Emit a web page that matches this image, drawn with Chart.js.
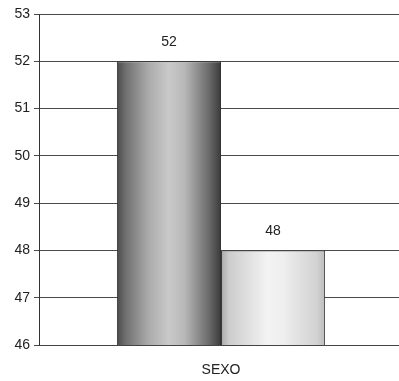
<!DOCTYPE html>
<html>
<head>
<meta charset="utf-8">
<script src="https://cdn.jsdelivr.net/npm/chart.js@4/dist/chart.umd.min.js"></script>
<style>
  html, body { margin: 0; padding: 0; background: #ffffff; overflow: hidden; }
  #wrap { width: 399px; height: 381px; overflow: hidden; }
  #c { display: block; }
</style>
</head>
<body>
<div id="wrap"><canvas id="c" width="403" height="381"></canvas></div>
<script>
// Values
const categories = ['SEXO'];
const seriesNames = ['Grupo 1', 'Grupo 2'];
const seriesA = [52];
const seriesB = [48];
const yMin = 46;
const yMax = 53;
const yStep = 1;

// Bar geometry shared between options and the shading helper
const CAT_PCT = 0.572;
const BAR_PCT = 1.0;

const darkStops = [
  [0.00, '#4a4a4a'], [0.08, '#6e6e6e'], [0.30, '#aaaaaa'],
  [0.50, '#c9c9c9'], [0.65, '#b8b8b8'], [0.88, '#6c6c6c'], [1.00, '#3a3a3a']
];
const lightStops = [
  [0.00, '#a8a8a8'], [0.08, '#cdcdcd'], [0.45, '#f3f3f3'],
  [0.60, '#eeeeee'], [0.92, '#d2d2d2'], [1.00, '#bcbcbc']
];

// Horizontal cylinder-like shading for each bar, spanning that bar's slot
function barShade(ctx, stops) {
  const chart = ctx.chart;
  const xs = chart.scales && chart.scales.x;
  if (!chart.chartArea || !xs || ctx.dataIndex === undefined) return stops[3][1];
  const n = chart.data.datasets.length;
  const cat = xs.width / categories.length;
  const group = cat * CAT_PCT;
  const slot = group / n;
  const center = xs.getPixelForValue(ctx.dataIndex);
  const left = center - group / 2 + ctx.datasetIndex * slot + slot * (1 - BAR_PCT) / 2;
  const right = left + slot * BAR_PCT;
  const g = chart.ctx.createLinearGradient(left, 0, right, 0);
  stops.forEach(([p, c]) => g.addColorStop(p, c));
  return g;
}

// Value written above each bar
const valueLabels = {
  id: 'valueLabels',
  afterDatasetsDraw(chart) {
    const c = chart.ctx;
    c.save();
    c.font = '14px "Liberation Sans", Arial, sans-serif';
    c.fillStyle = '#222222';
    c.textAlign = 'center';
    c.textBaseline = 'middle';
    chart.data.datasets.forEach((ds, i) => {
      const meta = chart.getDatasetMeta(i);
      meta.data.forEach((bar, j) => {
        c.fillText(String(ds.data[j]), bar.x, bar.y - 19);
      });
    });
    c.restore();
  }
};

new Chart(document.getElementById('c'), {
  type: 'bar',
  data: {
    labels: categories,
    datasets: [
      {
        label: seriesNames[0],
        data: seriesA,
        backgroundColor: (ctx) => barShade(ctx, darkStops),
        borderColor: '#333333',
        borderWidth: 1,
        borderSkipped: 'bottom'
      },
      {
        label: seriesNames[1],
        data: seriesB,
        backgroundColor: (ctx) => barShade(ctx, lightStops),
        borderColor: '#3a3a3a',
        borderWidth: 1,
        borderSkipped: 'bottom'
      }
    ]
  },
  options: {
    responsive: false,
    animation: false,
    devicePixelRatio: 1,
    categoryPercentage: CAT_PCT,
    barPercentage: BAR_PCT,
    layout: { padding: { top: 14, right: 0, bottom: 0, left: 0 } },
    plugins: {
      legend: { display: false },
      tooltip: { enabled: false },
      title: { display: false }
    },
    scales: {
      x: {
        offset: true,
        grid: { display: false, drawTicks: false },
        border: { display: true, color: '#444444', width: 1 },
        ticks: {
          padding: 17,
          color: '#222222',
          font: { family: '"Liberation Sans", Arial, sans-serif', size: 14 }
        },
        afterFit: (s) => { s.height = 36; }
      },
      y: {
        min: yMin,
        max: yMax,
        ticks: {
          stepSize: yStep,
          padding: 4,
          color: '#222222',
          font: { family: '"Liberation Sans", Arial, sans-serif', size: 14 }
        },
        grid: { color: '#4a4a4a', lineWidth: 1, tickLength: 5, drawTicks: true },
        border: { display: true, color: '#333333', width: 1 },
        afterFit: (s) => { s.width = 39; }
      }
    }
  },
  plugins: [valueLabels]
});
</script>
</body>
</html>
